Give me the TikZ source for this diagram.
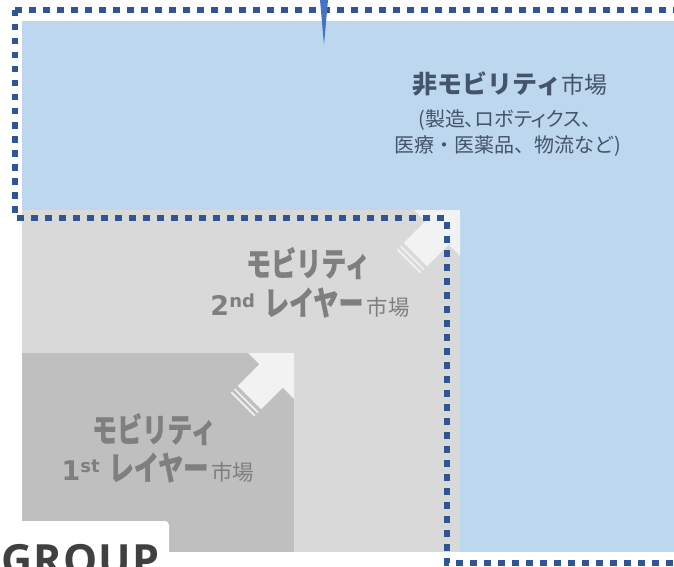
\documentclass[tikz,border=0pt]{standalone}
\usepackage{fontspec}
\setmainfont{Noto Sans CJK JP}
\newfontfamily\jpcond{Noto Sans CJK JP}[FakeStretch=0.76, BoldFeatures={FakeBold=0.6}]
\newfontfamily\jpprop{Noto Sans CJK JP}[RawFeature=+palt]
\newfontfamily\numfont{DejaVu Sans}
\newfontfamily\grpfont{Open Sans}[LetterSpace=3]
\definecolor{nmblue}{HTML}{BDD7EE}
\definecolor{lgray}{HTML}{D9D9D9}
\definecolor{dgray}{HTML}{BFBFBF}
\definecolor{arrowc}{HTML}{F2F2F2}
\definecolor{dotc}{HTML}{2F5597}
\definecolor{spikec}{HTML}{4472C4}
\definecolor{nmtextc}{HTML}{44546A}
\definecolor{mtextc}{HTML}{7F7F7F}
\definecolor{grpc}{HTML}{404040}
\tikzset{
  dotline/.style={draw=dotc, line width=6.5pt, dash pattern=on 6.5pt off 7.5pt},
  lbl/.style={inner sep=0pt, anchor=base},
  pics/cornerarrow/.style={code={
    \fill[arrowc] (0pt,0pt) -- (-32.5pt,32.5pt) -- (-32.5pt,16.5pt) -- (-63pt,16.5pt)
      -- (-63pt,-16.5pt) -- (-32.5pt,-16.5pt) -- (-32.5pt,-32.5pt) -- cycle;
    \draw[arrowc, line width=1.7pt] (-67.5pt,-16.5pt) -- (-67.5pt,16.5pt);
    \draw[arrowc, line width=1.7pt] (-72pt,-16.5pt) -- (-72pt,16.5pt);
  }}
}
\newcommand\bigsz{\fontsize{33}{36}\selectfont}
\newcommand\mktsz{\fontsize{21.5}{24}\selectfont}
\newcommand\layerlbl[2]{{\bfseries{\numfont\fontsize{27}{30}\selectfont #1\raisebox{8pt}{\fontsize{18}{18}\selectfont #2}}\hspace{9pt}{\jpcond\bigsz レイヤー}}\hspace{3pt}{\mktsz 市場}}
\begin{document}
\begin{tikzpicture}[x=1pt,y=-1pt]
\useasboundingbox (0,0) rectangle (674,567);
\clip (0,0) rectangle (674,567);
% regions
\fill[nmblue] (22,21) rectangle (674,552);
\fill[lgray] (22,210) rectangle (460,552);
\pic[rotate=45] at (460,210) {cornerarrow};
\fill[dgray] (22,353) rectangle (294,552);
\pic[rotate=45] at (294,353) {cornerarrow};
% GROUP label box
\fill[white, rounded corners=4pt] (-10,521) rectangle (169,590);
\node[inner sep=0pt, anchor=base west, text=grpc] (grp) at (1,575)
  {\grpfont\fontsize{43}{46}\selectfont\bfseries GROUP};
% non-mobility text
\node[lbl, text=nmtextc] (nm1) at (510,94)
  {{\fontsize{25}{28}\selectfont\bfseries 非モビリティ}{\fontsize{23}{26}\selectfont 市場}};
\node[lbl, text=nmtextc] (nm2) at (505,126)
  {\jpprop\fontsize{20}{23}\selectfont (製造、ロボティクス、};
\node[lbl, text=nmtextc] (nm3) at (508,152)
  {\fontsize{20}{23}\selectfont 医療・医薬品、物流など)};
% 2nd layer text
\node[lbl, text=mtextc] (m2a) at (308,276) {\jpcond\bigsz\bfseries モビリティ};
\node[lbl, text=mtextc] (m2b) at (310,315) {\layerlbl{2}{nd}};
% 1st layer text
\node[lbl, text=mtextc] (m1a) at (154,442) {\jpcond\bigsz\bfseries モビリティ};
\node[lbl, text=mtextc] (m1b) at (158,480) {\layerlbl{1}{st}};
% dotted boundary
\draw[dotline] (15,10) -- (674,10);
\draw[dotline] (15,10) -- (15,218) -- (447,218) -- (447,563) -- (674,563);
% spike
\fill[spikec] (320,0) -- (328,0) -- (324,45) -- cycle;
\end{tikzpicture}
\end{document}
